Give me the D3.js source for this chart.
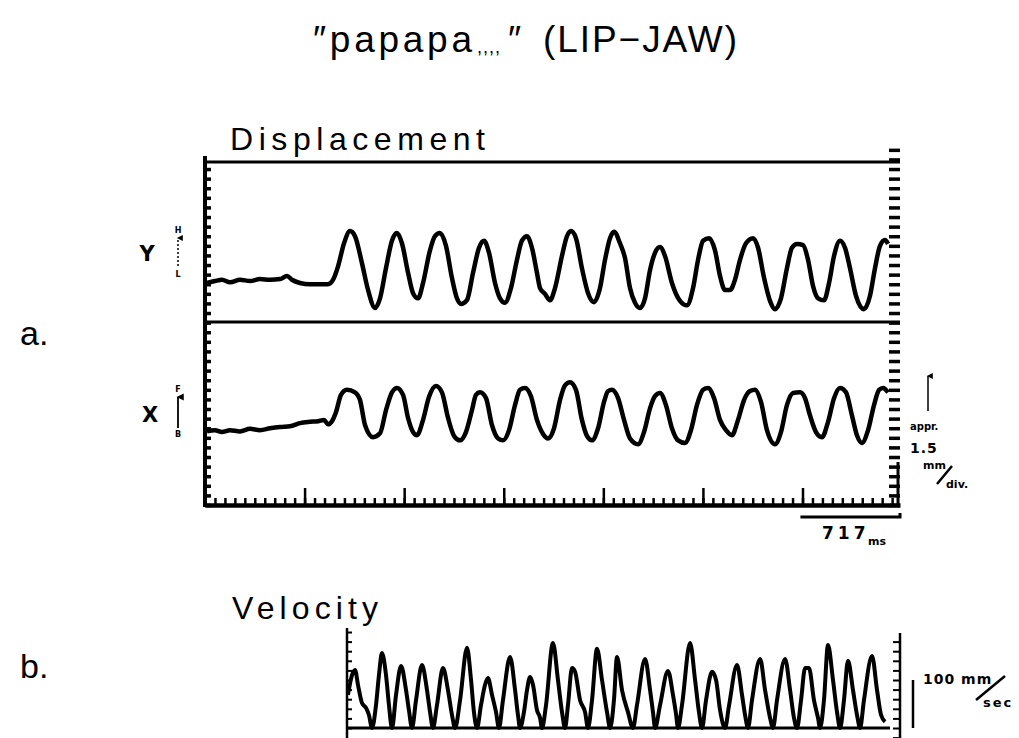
<!DOCTYPE html>
<html>
<head>
<meta charset="utf-8">
<title>papapa (LIP-JAW)</title>
<style>
  body { margin: 0; background: #fff; }
  svg { display: block; }
  text { font-family: "Liberation Sans", Arial, sans-serif; fill: #000; }
  .lbl { font-family: "DejaVu Sans", sans-serif; font-weight: bold; }
  .tick line { stroke: #000; }
  .domain { stroke: #000; }
</style>
</head>
<body>
<script src="https://cdn.jsdelivr.net/npm/d3@7/dist/d3.min.js"></script>
<script>
// [time ms, displacement mm from rest]  (vertical, H up / L down)
var yTrace = [[14,-0.3],[72,0],[122,0.2],[180,-0.2],[252,0.2],[324,0],[396,0.3],[468,0.2],[540,0.3],[590,0.8],[626,0.2],[684,-0.3],[756,-0.5],[828,-0.5],[886,-0.5],[922,0.2],[958,2.3],[1001,5.9],[1044,7.8],[1080,7.0],[1130,2.8],[1174,-1.4],[1224,-4.2],[1260,-2.7],[1303,2.0],[1346,6.3],[1382,7.5],[1418,5.9],[1462,1.3],[1498,-1.9],[1534,-2.7],[1570,-0.3],[1620,4.8],[1656,7.0],[1692,7.5],[1735,5.5],[1778,0.5],[1814,-2.7],[1843,-3.6],[1886,-3.0],[1930,1.3],[1973,5.2],[2009,6.3],[2045,4.4],[2088,-0.3],[2124,-2.7],[2160,-3.4],[2203,-1.1],[2246,3.3],[2282,6.3],[2318,7.0],[2354,5.2],[2390,1.3],[2412,-1.1],[2448,-2.0],[2484,-3.0],[2520,-1.1],[2570,3.9],[2606,7.0],[2635,7.8],[2671,6.7],[2714,2.0],[2758,-1.9],[2801,-3.3],[2844,-1.1],[2880,3.3],[2916,6.7],[2945,7.7],[2988,5.9],[3024,3.6],[3060,-1.1],[3096,-3.4],[3132,-4.2],[3168,-2.7],[3204,1.7],[3240,4.4],[3276,5.3],[3312,3.9],[3362,-0.3],[3420,-3.1],[3470,-3.8],[3514,-1.1],[3550,3.3],[3586,6.3],[3629,6.7],[3672,4.8],[3708,0.8],[3744,-1.4],[3780,-1.4],[3816,0.2],[3852,3.3],[3895,5.9],[3946,6.7],[3982,5.2],[4025,0.5],[4068,-3.1],[4104,-4.4],[4147,-2.7],[4190,2.0],[4226,5.2],[4262,5.8],[4306,5.6],[4342,3.3],[4378,-0.8],[4414,-2.7],[4457,-3.0],[4493,-0.3],[4529,3.9],[4572,6.3],[4608,5.2],[4644,2.0],[4687,-2.3],[4745,-4.4],[4788,-2.3],[4824,2.0],[4860,5.5],[4896,6.4],[4918,5.8]]

// [time ms, displacement mm from rest]  (horizontal, F up / B down)
var xTrace = [[14,-0.2],[72,0],[122,-0.3],[180,0],[252,-0.2],[324,0.2],[396,0],[468,0.3],[540,0.5],[612,0.6],[684,1.1],[756,1.3],[814,1.4],[857,1.6],[886,0.9],[914,1.4],[943,2.8],[979,5.5],[1022,6.3],[1080,5.9],[1116,4.7],[1152,0.8],[1210,-1.1],[1260,-0.5],[1303,3.1],[1346,5.9],[1382,6.6],[1426,5.5],[1462,1.9],[1498,-0.3],[1526,-0.8],[1570,1.6],[1613,5.2],[1663,6.9],[1706,5.9],[1750,1.9],[1793,-0.9],[1836,-1.6],[1879,-0.3],[1922,3.1],[1951,5.5],[1980,5.9],[2023,5.0],[2066,0.8],[2110,-1.3],[2146,-1.6],[2189,0],[2232,3.9],[2268,6.3],[2304,6.6],[2347,5.3],[2390,1.6],[2434,-0.6],[2470,-1.3],[2513,0.3],[2556,4.7],[2592,7.0],[2628,7.5],[2671,6.3],[2714,1.6],[2750,-0.9],[2786,-1.6],[2830,0.3],[2873,4.4],[2902,6.1],[2930,6.3],[2974,5.0],[3017,1.6],[3060,-1.3],[3118,-2.2],[3161,-0.3],[3204,3.4],[3240,5.3],[3276,5.8],[3319,3.9],[3362,0.3],[3406,-1.6],[3456,-2.0],[3499,0],[3542,3.9],[3586,6.3],[3622,6.6],[3665,5.0],[3708,1.6],[3751,0],[3794,-0.8],[3838,1.6],[3881,4.7],[3924,6.1],[3960,6.3],[4003,4.4],[4046,0],[4104,-2.2],[4147,-0.3],[4190,3.9],[4234,5.8],[4284,5.9],[4320,5.0],[4356,2.3],[4399,-0.3],[4442,-1.1],[4486,1.3],[4529,5.0],[4572,6.6],[4615,5.9],[4658,2.3],[4694,-0.8],[4730,-2.0],[4774,0],[4817,3.9],[4853,6.3],[4882,6.6],[4918,5.9]]

// [time ms, speed mm/sec]
var velTrace = [[7,69],[36,110],[58,121],[79,90],[108,52],[137,42],[158,27],[180,0],[209,48],[230,110],[252,156],[281,110],[302,48],[324,0],[353,69],[389,129],[425,79],[446,37],[468,0],[497,58],[540,131],[576,79],[598,33],[619,0],[648,48],[691,125],[727,79],[756,27],[778,0],[814,58],[864,167],[893,100],[914,33],[936,0],[965,48],[994,90],[1015,104],[1044,69],[1073,33],[1094,0],[1123,58],[1174,148],[1210,79],[1231,27],[1246,0],[1274,33],[1296,79],[1318,106],[1339,90],[1368,37],[1390,21],[1404,0],[1433,48],[1483,177],[1519,100],[1548,33],[1570,0],[1591,48],[1620,125],[1642,117],[1678,58],[1714,33],[1735,0],[1764,58],[1800,165],[1836,100],[1872,33],[1894,0],[1922,58],[1944,148],[1980,79],[2023,33],[2059,0],[2088,48],[2146,144],[2182,79],[2203,33],[2218,0],[2254,48],[2311,119],[2347,69],[2369,29],[2383,0],[2412,48],[2470,177],[2506,100],[2534,33],[2556,0],[2585,58],[2628,117],[2657,100],[2686,37],[2722,0],[2750,46],[2808,131],[2844,69],[2866,27],[2887,0],[2916,58],[2974,144],[3010,79],[3046,21],[3067,0],[3096,58],[3154,144],[3190,79],[3218,21],[3240,0],[3269,58],[3298,125],[3326,125],[3362,58],[3391,21],[3406,0],[3434,58],[3463,173],[3499,100],[3528,33],[3550,0],[3578,58],[3607,140],[3643,79],[3672,27],[3694,0],[3722,58],[3780,150],[3816,79],[3845,27],[3874,13]]

var timeDiv = 717          // ms per major division
var mmDiv = 1.5            // mm per division
var velBar = 100           // mm/sec scale bar

var width = 1019, height = 738
var svg = d3.select('body').append('svg')
  .attr('width', width)
  .attr('height', height)

svg.append('rect').attr('width', width).attr('height', height).attr('fill', '#fff')

var defs = svg.append('defs')
defs.append('marker')
  .attr('id', 'head')
  .attr('viewBox', '0 0 10 10')
  .attr('refX', 5).attr('refY', 2)
  .attr('markerWidth', 4).attr('markerHeight', 5)
  .attr('orient', 'auto-start-reverse')
  .append('path').attr('d', 'M0,10L5,0L10,10z').attr('fill', '#000')

// ---------- displacement panel ----------
var xScale = d3.scaleLinear().domain([0, 5004]).range([205, 900])
var dScale = d3.scaleLinear().domain([0, 53.6]).range([505, 162])
var yRest = 35, xRest = 11.7, midMM = 28.6

// frame lines
svg.append('line').attr('x1', 205).attr('x2', 900)
  .attr('y1', dScale(53.6)).attr('y2', dScale(53.6))
  .attr('stroke', '#000').attr('stroke-width', 3)
svg.append('line').attr('x1', 205).attr('x2', 900)
  .attr('y1', dScale(midMM)).attr('y2', dScale(midMM))
  .attr('stroke', '#000').attr('stroke-width', 3)
svg.append('line').attr('x1', 205).attr('x2', 205)
  .attr('y1', 156).attr('y2', 507)
  .attr('stroke', '#000').attr('stroke-width', 4)

// left ticks
var leftAxis = svg.append('g').attr('transform', 'translate(205,0)')
  .call(d3.axisRight(dScale).tickValues(d3.range(0, 54, mmDiv)).tickSize(6).tickSizeOuter(0).tickFormat(''))
leftAxis.select('.domain').remove()
leftAxis.selectAll('.tick line').attr('stroke-width', 3.5)

// right dashed edge
var rightAxis = svg.append('g').attr('transform', 'translate(889,0)')
  .call(d3.axisRight(dScale).tickValues(d3.range(0, 56, mmDiv)).tickSize(11).tickSizeOuter(0).tickFormat(''))
rightAxis.select('.domain').remove()
rightAxis.selectAll('.tick line').attr('stroke-width', 3.5)
svg.append('line').attr('x1', 898).attr('x2', 898).attr('y1', 462).attr('y2', 507)
  .attr('stroke', '#000').attr('stroke-width', 3)

// bottom time axis
var minorAxis = svg.append('g').attr('transform', 'translate(0,' + dScale(0) + ')')
  .call(d3.axisTop(xScale).tickValues(d3.range(0, 5004, timeDiv / 10)).tickSize(7).tickSizeOuter(0).tickFormat(''))
minorAxis.select('.domain').attr('stroke-width', 4.5)
minorAxis.selectAll('.tick line').attr('stroke-width', 2.5)
var majorAxis = svg.append('g').attr('transform', 'translate(0,' + dScale(0) + ')')
  .call(d3.axisTop(xScale).tickValues(d3.range(timeDiv, 5004, timeDiv)).tickSize(17).tickSizeOuter(0).tickFormat(''))
majorAxis.select('.domain').remove()
majorAxis.selectAll('.tick line').attr('stroke-width', 2.5)

// traces
function dispLine(rest) {
  return d3.line()
    .x(d => xScale(d[0]))
    .y(d => dScale(rest + d[1]))
    .curve(d3.curveMonotoneX)
}
svg.append('path').datum(yTrace)
  .attr('d', dispLine(yRest))
  .attr('fill', 'none').attr('stroke', '#000').attr('stroke-width', 4.5)
  .attr('stroke-linejoin', 'round')
svg.append('path').datum(xTrace)
  .attr('d', dispLine(xRest))
  .attr('fill', 'none').attr('stroke', '#000').attr('stroke-width', 4.5)
  .attr('stroke-linejoin', 'round')

// 717 ms bar
var barY = 517
svg.append('path')
  .attr('d', d3.line()([[xScale(5004 - timeDiv), barY], [xScale(5004), barY], [xScale(5004), barY - 4]]))
  .attr('fill', 'none').attr('stroke', '#000').attr('stroke-width', 3)
svg.append('text').attr('class', 'lbl').attr('x', 822).attr('y', 539)
  .attr('font-size', 17).attr('letter-spacing', 4).text(timeDiv)
svg.append('text').attr('class', 'lbl').attr('x', 868).attr('y', 545)
  .attr('font-size', 11).text('ms')

// channel labels
svg.append('text').attr('class', 'lbl').attr('x', 147).attr('y', 261)
  .attr('text-anchor', 'middle').attr('font-size', 21).text('Y')
svg.append('text').attr('class', 'lbl').attr('x', 150).attr('y', 422)
  .attr('text-anchor', 'middle').attr('font-size', 21).text('X')

var small = [['H', 233], ['L', 277], ['F', 392], ['B', 437]]
svg.selectAll('.dir').data(small).enter().append('text')
  .attr('class', 'lbl dir')
  .attr('x', 178).attr('y', d => d[1])
  .attr('text-anchor', 'middle').attr('font-size', 8)
  .text(d => d[0])
svg.append('line').attr('x1', 178).attr('x2', 178).attr('y1', 266).attr('y2', 238)
  .attr('stroke', '#000').attr('stroke-width', 1.5).attr('stroke-dasharray', '2,2')
  .attr('marker-end', 'url(#head)')
svg.append('line').attr('x1', 178).attr('x2', 178).attr('y1', 428).attr('y2', 397)
  .attr('stroke', '#000').attr('stroke-width', 1.8)
  .attr('marker-end', 'url(#head)')

// scale note on the right
svg.append('line').attr('x1', 928).attr('x2', 928).attr('y1', 411).attr('y2', 376)
  .attr('stroke', '#000').attr('stroke-width', 1.5)
  .attr('marker-end', 'url(#head)')
svg.append('text').attr('class', 'lbl').attr('x', 910).attr('y', 430)
  .attr('font-size', 10).text('appr.')
svg.append('text').attr('class', 'lbl').attr('x', 910).attr('y', 453)
  .attr('font-size', 14).attr('letter-spacing', 1).text(mmDiv)
svg.append('text').attr('class', 'lbl').attr('x', 923).attr('y', 469)
  .attr('font-size', 11).text('mm')
svg.append('line').attr('x1', 937).attr('y1', 484).attr('x2', 952).attr('y2', 466)
  .attr('stroke', '#000').attr('stroke-width', 2.5)
svg.append('text').attr('class', 'lbl').attr('x', 946).attr('y', 488)
  .attr('font-size', 11).text('div.')

// ---------- velocity panel ----------
var vxScale = d3.scaleLinear().domain([0, 3967]).range([347, 898])
var vyScale = d3.scaleLinear().domain([0, velBar]).range([728, 680])

svg.append('line').attr('x1', 347).attr('x2', 347).attr('y1', 628).attr('y2', 738)
  .attr('stroke', '#000').attr('stroke-width', 2.5)
var vLeft = svg.append('g').attr('transform', 'translate(347,0)')
  .call(d3.axisRight(vyScale).tickValues(d3.range(0, 220, 20)).tickSize(5).tickSizeOuter(0).tickFormat(''))
vLeft.select('.domain').remove()
vLeft.selectAll('.tick line').attr('stroke-width', 2)

var vRight = svg.append('g').attr('transform', 'translate(900,0)')
  .call(d3.axisLeft(vyScale).tickValues(d3.range(-20, 200, 20)).tickSize(7).tickSizeOuter(0).tickFormat(''))
vRight.select('.domain').remove()
vRight.selectAll('.tick line').attr('stroke-width', 2)
svg.append('line').attr('x1', 900).attr('x2', 900).attr('y1', 633).attr('y2', 738)
  .attr('stroke', '#000').attr('stroke-width', 2.5)

svg.append('line').attr('x1', 347).attr('x2', 890)
  .attr('y1', vyScale(0)).attr('y2', vyScale(0))
  .attr('stroke', '#000').attr('stroke-width', 3)

svg.append('path').datum(velTrace)
  .attr('d', d3.line().x(d => vxScale(d[0])).y(d => vyScale(d[1])).curve(d3.curveMonotoneX))
  .attr('fill', 'none').attr('stroke', '#000').attr('stroke-width', 4)
  .attr('stroke-linejoin', 'round')

// 100 mm/sec bar
svg.append('line').attr('x1', 913).attr('x2', 913)
  .attr('y1', vyScale(0)).attr('y2', vyScale(velBar))
  .attr('stroke', '#000').attr('stroke-width', 2.5)
svg.append('text').attr('class', 'lbl').attr('x', 923).attr('y', 684)
  .attr('font-size', 14).attr('letter-spacing', 1).text(velBar + ' mm')
svg.append('line').attr('x1', 976).attr('y1', 700).attr('x2', 1005).attr('y2', 676)
  .attr('stroke', '#000').attr('stroke-width', 2.5)
svg.append('text').attr('class', 'lbl').attr('x', 983).attr('y', 707)
  .attr('font-size', 13).attr('letter-spacing', 2).text('sec')

// ---------- titles ----------
svg.append('text').attr('x', 313).attr('y', 52).attr('font-size', 37)
  .attr('textLength', 159).attr('lengthAdjust', 'spacing').text('\u2033papapa')
svg.append('text').attr('x', 477).attr('y', 53).attr('font-size', 18)
  .attr('textLength', 23).attr('lengthAdjust', 'spacing').text(',,,,')
svg.append('text').attr('x', 508).attr('y', 52).attr('font-size', 37).text('\u2033')
svg.append('text').attr('x', 543).attr('y', 52).attr('font-size', 37)
  .attr('textLength', 194).attr('lengthAdjust', 'spacing').text('(LIP\u2212JAW)')

svg.append('text').attr('x', 230).attr('y', 150).attr('font-size', 32)
  .attr('textLength', 255).attr('lengthAdjust', 'spacing').text('Displacement')
svg.append('text').attr('x', 232).attr('y', 619).attr('font-size', 32)
  .attr('textLength', 146).attr('lengthAdjust', 'spacing').text('Velocity')

svg.append('text').attr('x', 20).attr('y', 345).attr('font-size', 34).text('a.')
svg.append('text').attr('x', 20).attr('y', 678).attr('font-size', 34).text('b.')
</script>
</body>
</html>
